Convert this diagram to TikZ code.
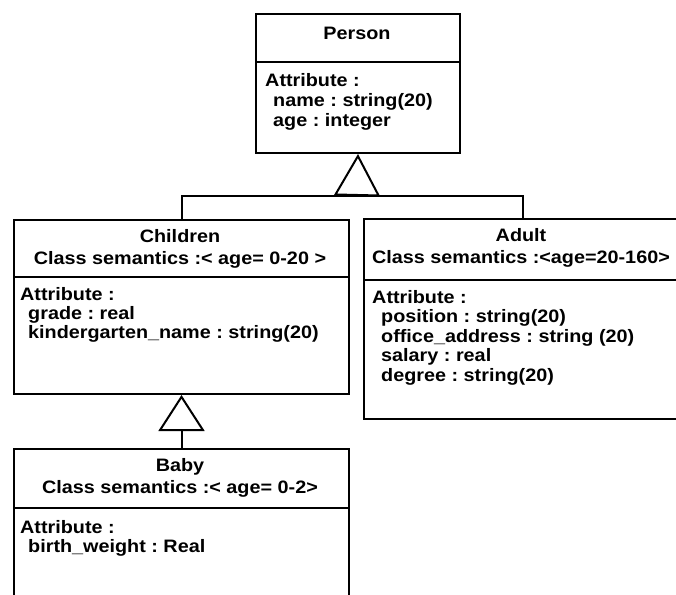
\documentclass[tikz,border=0pt]{standalone}
\usepackage{fontspec}
\setmainfont{Liberation Sans}[FakeStretch=1.1]
\usetikzlibrary{arrows.meta}
\frenchspacing
\begin{document}
\begin{tikzpicture}[x=1pt,y=-1pt,
  classbox/.style={draw=black, line width=2pt, rectangle, inner sep=0pt, anchor=north west},
  rule/.style={draw=black, line width=2pt},
  link/.style={draw=black, line width=2pt},
  gen/.style={draw=black, line width=2pt, -{Triangle[open, length=#1, width=46pt, line width=2pt]}},
  gen/.default=42pt,
  txt/.style={inner sep=0pt, font=\fontsize{18}{20}\selectfont\bfseries},
  head/.style={txt, anchor=base},
  attr/.style={txt, anchor=base west}
]
\useasboundingbox (0,0) rectangle (676,594);
\clip (0,0) rectangle (676,594);
\fill[white] (0,0) rectangle (676,594);

% class boxes
\node[classbox, minimum width=204pt, minimum height=139pt] (person) at (255,13) {};
\node[classbox, minimum width=335pt, minimum height=174pt] (children) at (13,219) {};
\node[classbox, minimum width=317pt, minimum height=200pt] (adult) at (363,218) {};
\node[classbox, minimum width=335pt, minimum height=170pt] (baby) at (13,448) {};

% compartment dividers
\coordinate (pdiv) at (0,62);
\coordinate (cdiv) at (0,277);
\coordinate (adiv) at (0,280);
\coordinate (bdiv) at (0,508);
\draw[rule] (person.west |- pdiv) -- (person.east |- pdiv);
\draw[rule] (children.west |- cdiv) -- (children.east |- cdiv);
\draw[rule] (adult.west |- adiv) -- (adult.east |- adiv);
\draw[rule] (baby.west |- bdiv) -- (baby.east |- bdiv);

% Person
\node[head] (pname) at (357,40) {Person};
\node[attr] (pa0) at (265,86) {Attribute :};
\node[attr] (pa1) at (273,106) {name : string(20)};
\node[attr] (pa2) at (273,126) {age : integer};

% Children
\node[head] (cname) at (180,242) {Children};
\node[head] (csem) at (180,264) {Class semantics :< age= 0-20 >};
\node[attr] (ca0) at (20,300) {Attribute :};
\node[attr] (ca1) at (28,319) {grade : real};
\node[attr] (ca2) at (28,338) {kindergarten\_name : string(20)};

% Adult
\node[head] (aname) at (521,241) {Adult};
\node[head] (asem) at (521,263) {Class semantics :<age=20-160>};
\node[attr] (aa0) at (372,303) {Attribute :};
\node[attr] (aa1) at (381,322) {position : string(20)};
\node[attr] (aa2) at (381,342) {office\_address : string (20)};
\node[attr] (aa3) at (381,361) {salary : real};
\node[attr] (aa4) at (381,381) {degree : string(20)};

% Baby
\node[head] (bname) at (180,471) {Baby};
\node[head] (bsem) at (180,493) {Class semantics :< age= 0-2>};
\node[attr] (ba0) at (20,533) {Attribute :};
\node[attr] (ba1) at (28,552) {birth\_weight : Real};

% generalisation links
\coordinate (bar) at (357,196);
\draw[link] (children.north) |- (bar) -| (adult.north);
\draw[gen] (bar) -- (person.south);
\draw[gen=36pt] (baby.north) -- (children.south);
\end{tikzpicture}
\end{document}
